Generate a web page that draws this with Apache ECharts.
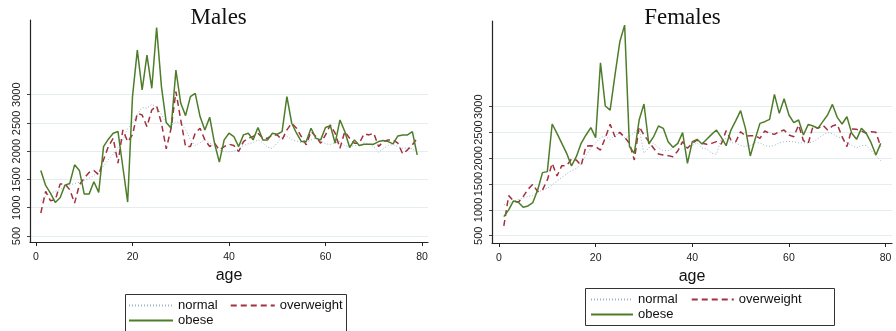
<!DOCTYPE html>
<html>
<head>
<meta charset="utf-8">
<script src="https://cdn.jsdelivr.net/npm/echarts@6/dist/echarts.min.js"></script>
<style>
html,body{margin:0;padding:0;background:#fff;}
#c{width:896px;height:331px;}
</style>
</head>
<body>
<div id="c"></div>
<script>
// ---- data ----
const ages = [];
for (let a = 1; a <= 79; a++) ages.push(a);

const maleNormal = [1120,1200,1260,1290,1320,1370,1400,1430,1450,1480,1520,1570,1640,1730,1850,1950,2060,2200,2400,2500,
 2650,2770,2760,2830,2780,2650,2500,2450,2520,2500,2380,2200,2100,2150,2200,2150,2080,2020,1990,1990,
 2000,2040,2100,2130,2150,2200,2150,2070,2050,2150,2250,2270,2200,2180,2150,2150,2200,2230,2180,2130,
 2120,2150,2170,2100,2080,2100,2100,2150,2130,2080,1980,2050,2100,2120,2080,2050,2060,2040,1980];
const maleOverweight = [906,1288,1124,1141,1418,1418,1318,1082,1406,1524,1624,1659,1582,1850,2082,2229,1788,2376,2170,2290,
 2670,2641,2435,2729,2800,2494,2041,2406,3053,2553,2082,2082,2318,2406,2200,2082,2141,2024,2082,2124,
 2100,1994,2170,2229,2259,2318,2229,2229,2288,2288,2200,2376,2494,2406,2259,2112,2347,2259,2141,2288,
 2465,2318,2053,2347,2229,2141,2141,2306,2288,2318,2082,2170,2200,2200,2141,1953,2024,2112,2229];
const maleObese = [1659,1394,1259,1094,1177,1400,1430,1759,1659,1241,1241,1459,1271,2082,2212,2318,2347,1720,1100,2965,
 3788,3082,3700,3112,4188,3141,2506,2406,3435,2847,2629,2965,3024,2612,2376,2600,2141,1806,2200,2318,
 2259,2082,2288,2318,2200,2418,2200,2200,2318,2300,2347,2965,2494,2318,2170,2170,2406,2229,2200,2418,
 2453,2141,2553,2347,2065,2200,2100,2124,2124,2124,2170,2188,2170,2130,2270,2288,2288,2347,1935];

const femaleNormal = [1100,1120,1170,1200,1230,1260,1280,1350,1380,1420,1480,1560,1630,1700,1760,1800,1900,2050,2200,2300,
 2400,2430,2360,2450,2480,2400,2420,2500,2580,2100,2200,2300,2200,2150,2150,2200,2280,2300,2200,2250,
 2300,2200,2180,2100,2080,2380,2380,2300,2300,2250,2230,2250,2300,2300,2250,2230,2250,2300,2320,2330,
 2320,2300,2300,2300,2320,2380,2450,2500,2480,2420,2380,2300,2250,2200,2250,2250,2150,2050,1950];
const femaleOverweight = [690,1277,1174,1148,1258,1400,1497,1355,1387,1581,1903,1658,1858,1858,1987,1968,1858,2239,2245,2226,
 2161,2400,2658,2419,2503,2406,2290,1968,2613,2452,2323,2194,2084,2065,2052,2032,2142,2323,2194,2290,
 2355,2290,2271,2290,2323,2277,2535,2355,2323,2516,2432,2439,2439,2387,2529,2484,2464,2516,2548,2452,
 2419,2645,2342,2290,2626,2581,2645,2548,2626,2658,2419,2226,2568,2561,2529,2484,2516,2503,2226];
const femaleObese = [871,1000,1174,1148,1052,1077,1142,1387,1723,1742,2665,2484,2290,2097,1852,2032,2290,2452,2594,2400,
 3852,3013,2935,3613,4258,4581,2226,2097,2742,3052,2277,2419,2626,2581,2323,2213,2290,2497,1903,2323,
 2368,2277,2368,2464,2548,2406,2245,2548,2729,2923,2581,2045,2368,2677,2710,2755,3239,2871,3155,2839,
 2690,2742,2452,2658,2626,2581,2710,2839,3045,2794,2665,2806,2484,2368,2581,2484,2303,2065,2290];

const yTicks = [500,1000,1500,2000,2500,3000];
const xTicks = [0,20,40,60,80];
const panelTitles = ['Males','Females'];
const seriesNames = ['normal','overweight','obese'];

// ---- styles ----
const FONT = 'Liberation Sans';
const colNormal = '#9db3cb', colOver = '#a2303e', colObese = '#4e7d2a';
const lineStyles = [
  {color: colNormal, width: 1, type: [1, 2]},
  {color: colOver, width: 1.5, type: [6, 4]},
  {color: colObese, width: 1.5, type: 'solid'}
];

function pairs(vals){ return ages.map((a,i)=>[a, vals[i]]); }
const plain = v => String(v);

function xAxisCfg(gi, min, max){
  return {
    type:'value', gridIndex: gi, min: min, max: max,
    name:'age', nameLocation:'middle', nameGap: 26,
    nameTextStyle:{fontFamily: FONT, fontSize: 16, color:'#111'},
    axisLine:{show:true, onZero:false, lineStyle:{color:'#222', width:1.2}},
    axisTick:{show:true, customValues: xTicks, length:4, lineStyle:{color:'#222'}},
    axisLabel:{customValues: xTicks, formatter: plain, hideOverlap:false, margin: 10, fontFamily: FONT, fontSize: 10.5, color:'#222'},
    splitLine:{show:false}
  };
}
function yAxisCfg(gi, min, max){
  return {
    type:'value', gridIndex: gi, min: min, max: max,
    axisLine:{show:true, onZero:false, lineStyle:{color:'#222', width:1.2}},
    axisTick:{show:true, customValues: yTicks, length:3, lineStyle:{color:'#444'}},
    axisLabel:{customValues: yTicks, formatter: plain, hideOverlap:false, rotate: 90, margin: 8, fontFamily: FONT, fontSize: 11, color:'#222'},
    splitLine:{show:true, lineStyle:{color:'#e4eeef', width:1.2}}
  };
}

const panels = [
  [maleNormal, maleOverweight, maleObese],
  [femaleNormal, femaleOverweight, femaleObese]
];
const series = [];
panels.forEach((p, gi) => {
  p.forEach((vals, si) => {
    series.push({
      type:'line', name: seriesNames[si], xAxisIndex: gi, yAxisIndex: gi,
      data: pairs(vals), symbol:'none', showSymbol:false,
      lineStyle: lineStyles[si], itemStyle:{color: lineStyles[si].color},
      z: 3 + si, silent: true
    });
  });
});

const legTxt = {fontFamily: FONT, fontSize: 13, color:'#111'};
function legend(data, left, top, iw, gap){
  return {data: data, left: left, top: top, orient:'horizontal', itemWidth: iw, itemHeight: 10,
    itemGap: gap, padding: 0, textStyle: legTxt, selectedMode: false,
    itemStyle:{opacity: 0, borderWidth: 0}};
}

const option = {
  animation: false,
  backgroundColor:'#fff',
  grid: [
    {left: 30, top: 20, width: 398, height: 222},
    {left: 492, top: 21, width: 400, height: 222}
  ],
  xAxis: [xAxisCfg(0, -1.24, 81.24), xAxisCfg(1, -1.45, 81.33)],
  yAxis: [yAxisCfg(0, 394, 4320), yAxisCfg(1, 359, 4661)],
  legend: [
    legend(['normal','overweight'], 128, 299, 44, 12),
    legend(['obese'], 128, 314, 44, 12),
    legend(['normal','overweight'], 590, 293, 42, 13),
    legend(['obese'], 590, 308, 42, 13)
  ],
  graphic: [
    {type:'text', x: 218.7, y: 6, style:{text: panelTitles[0], fontFamily:'Liberation Serif', fontSize: 23, fill:'#111', textAlign:'center', textVerticalAlign:'top'}},
    {type:'text', x: 682.5, y: 6, style:{text: panelTitles[1], fontFamily:'Liberation Serif', fontSize: 23, fill:'#111', textAlign:'center', textVerticalAlign:'top'}},
    {type:'rect', shape:{x: 125.5, y: 294.5, width: 221, height: 40}, style:{fill:'none', stroke:'#333', lineWidth:1}},
    {type:'rect', shape:{x: 585.5, y: 288.5, width: 249, height: 37}, style:{fill:'none', stroke:'#333', lineWidth:1}}
  ],
  series: series
};

const chart = echarts.init(document.getElementById('c'), null, {renderer:'canvas'});
chart.setOption(option);
</script>
</body>
</html>
